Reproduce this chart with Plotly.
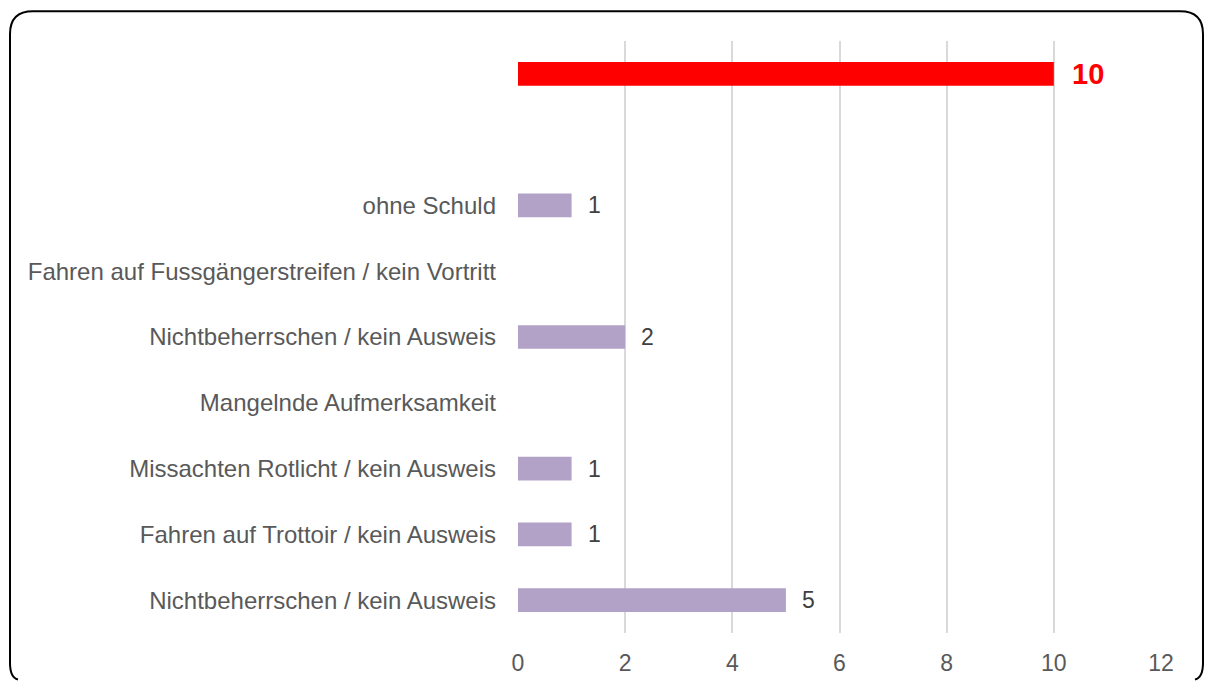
import plotly.graph_objects as go

# Data (bottom to top)
labels = [
    "Nichtbeherrschen / kein Ausweis",
    "Fahren auf Trottoir / kein Ausweis",
    "Missachten Rotlicht / kein Ausweis",
    "Mangelnde Aufmerksamkeit",
    "Nichtbeherrschen / kein Ausweis",
    "Fahren auf Fussgängerstreifen / kein Vortritt",
    "ohne Schuld",
    "",
    "",
]
values = [5, 1, 1, None, 2, None, 1, None, 10]
bar_colors = ["#b3a2c7"] * 8 + ["#ff0000"]
x_ticks = [0, 2, 4, 6, 8, 10, 12]

W, H = 1211, 688
ML, MR, MT, MB = 518, 50, 41, 48
PW, PH = W - ML - MR, H - MT - MB

def px(x):
    return (x - ML) / PW

def py(y):
    return (H - MB - y) / PH

positions = list(range(len(labels)))

fig = go.Figure()
fig.add_trace(go.Bar(
    x=values, y=positions, orientation="h",
    marker=dict(color=bar_colors, line=dict(width=0)),
    width=0.36, hoverinfo="skip",
))

annotations = []
for pos, v, c in zip(positions, values, bar_colors):
    if v is None:
        continue
    red = c == "#ff0000"
    annotations.append(dict(
        x=v, y=pos, xref="x", yref="y",
        text=("<b>%d</b>" % v) if red else str(v), showarrow=False,
        xanchor="left", yanchor="middle", xshift=16 if red else 14,
        font=dict(family="Liberation Sans, Arial, sans-serif",
                  size=29 if red else 23,
                  color="#ff0000" if red else "#404040"),
    ))

# rounded frame (figure pixel coordinates); its bottom edge falls just below the page
L, R, T, B, r = 10, 1203, 11, 693, 23
Hc = H - 1
path = (
    f"M {px(L + 8)},{py(Hc)} Q {px(L)},{py(B - 8)} {px(L)},{py(B - r)} "
    f"L {px(L)},{py(T + r)} Q {px(L)},{py(T)} {px(L + r)},{py(T)} "
    f"L {px(R - r)},{py(T)} Q {px(R)},{py(T)} {px(R)},{py(T + r)} "
    f"L {px(R)},{py(B - r)} Q {px(R)},{py(B - 8)} {px(R - 8)},{py(Hc)}"
)

fig.update_layout(
    width=W, height=H,
    margin=dict(l=ML, r=MR, t=MT, b=MB, pad=0),
    paper_bgcolor="white", plot_bgcolor="white",
    showlegend=False,
    font=dict(family="Liberation Sans, Arial, sans-serif", size=23, color="#595959"),
    xaxis=dict(range=[0, 12], tickvals=x_ticks, showgrid=True,
               gridcolor="#d9d9d9", gridwidth=1.5, zeroline=False,
               showline=False, ticks="", ticklabelstandoff=14,
               tickfont=dict(size=23, color="#595959")),
    yaxis=dict(range=[-0.5, len(labels) - 0.5], tickvals=positions, ticktext=labels,
               showgrid=False, zeroline=False, showline=False, ticks="",
               ticklabelstandoff=21, tickfont=dict(size=24, color="#595959")),
    annotations=annotations,
    shapes=[dict(type="path", path=path, xref="paper", yref="paper",
                 line=dict(color="black", width=2), layer="above")],
)

fig.write_html(
    "out.html",
    config={"displayModeBar": False},
    post_script=(
        "document.body.style.margin='0';"
        "document.body.style.overflow='hidden';"
        "document.documentElement.style.overflow='hidden';"
    ),
)
